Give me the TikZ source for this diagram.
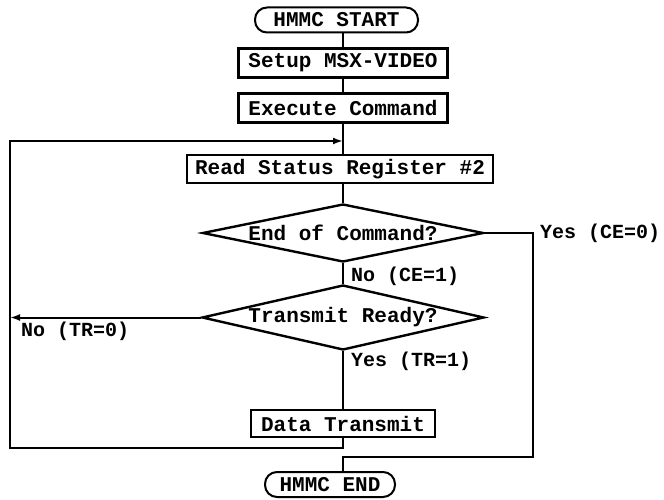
\documentclass[tikz,border=0pt]{standalone}
\usepackage{fontspec}
\setmonofont{Liberation Mono}
\usetikzlibrary{shapes.geometric}
\usetikzlibrary{arrows.meta}

\begin{document}
\begin{tikzpicture}[x=1pt, y=-1pt, line width=2pt, >={Latex[length=10pt,width=7pt]},
    every node/.style={font=\fontsize{21}{24}\selectfont\ttfamily\bfseries},
    procbox/.style={draw, rectangle, line width=2.2pt, inner sep=0pt, minimum height=29},
    termbox/.style={draw, rectangle, rounded corners=12pt, line width=2pt, inner sep=0pt, minimum height=25},
    decbox/.style={draw, diamond, line width=2.4pt, inner sep=0pt},
    branchlabel/.style={anchor=west, inner sep=0pt, font=\fontsize{20}{24}\selectfont\ttfamily\bfseries}]

% =========================================================
% HMMC command flow: setup, execute, poll status, transmit
% =========================================================

\useasboundingbox (0,0) rectangle (664,500);

% --- 1. COORDINATE DEFINITION (loop corners) ---
\coordinate (join) at (343,141);
\coordinate (lefttop) at (10,141);
\coordinate (leftbottom) at (10,448);
\coordinate (datajoin) at (343,448);
\coordinate (rightturn) at (533,233);
\coordinate (rightbottom) at (533,457);
\coordinate (endjoin) at (343,457);

% --- 2. MAIN COLUMN ---
\node[termbox, minimum width=163] (start) at (336.5,20) {HMMC START};
\node[procbox, minimum width=209] (setup) at (343,63) {Setup MSX-VIDEO};
\node[procbox, minimum width=209] (exec) at (343,108) {Execute Command};
\node[procbox, minimum width=306, minimum height=28] (read) at (340,169) {Read Status Register \#2};
\node[decbox, aspect=4.8, minimum width=281, minimum height=58] (endcmd) at (343,233) {End of Command?};
\node[decbox, aspect=4.3, minimum width=282, minimum height=65] (ready) at (343,317.5) {Transmit Ready?};
\node[procbox, minimum width=184, minimum height=27] (data) at (343,423.5) {Data Transmit};
\node[termbox, minimum width=130] (stop) at (330,484.5) {HMMC END};

% --- 3. CONNECTORS ---
\draw (start.south -| setup) -- (setup.north);
\draw (setup.south) -- (exec.north);
\draw (exec.south) -- (join) -- (join |- read.north);
\draw (join |- read.south) -- (endcmd.north);
\draw (endcmd.south) -- (ready.north);
\draw (ready.south) -- (data.north);

% exit branch (command finished)
\draw (endcmd.east) -- (rightturn) -- (rightbottom) -- (endjoin) -- (endjoin |- stop.north);

% polling loop back to the status read
\draw[->] (data.south) -- (datajoin) -- (leftbottom) -- (lefttop) -- (join);
\draw[->] (ready.west) -- (ready.west -| lefttop);

% --- 4. BRANCH LABELS ---
\node[branchlabel] (cenot) at (350,276) {No (CE=1)};
\node[branchlabel] (ceyes) at (539,233) {Yes (CE=0)};
\node[branchlabel] (trnot) at (20,331) {No (TR=0)};
\node[branchlabel] (tryes) at (350,361) {Yes (TR=1)};

\end{tikzpicture}
\end{document}
